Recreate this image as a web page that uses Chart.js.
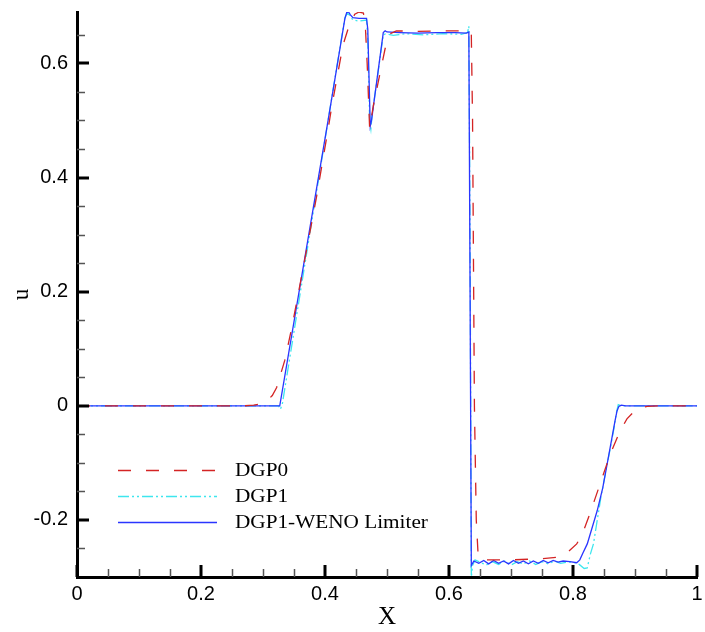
<!DOCTYPE html>
<html><head><meta charset="utf-8">
<script src="https://cdn.jsdelivr.net/npm/chart.js@4.4.1/dist/chart.umd.min.js"></script>
<style>html,body{margin:0;padding:0;background:#fff}canvas{display:block}</style>
</head><body>
<canvas id="c" width="705" height="632"></canvas>
<script>
// ---- data ----
const seriesNames = ['DGP0', 'DGP1', 'DGP1-WENO Limiter'];

const dgp0X = [0, 0.27, 0.285, 0.303, 0.315, 0.322, 0.335, 0.347, 0.368, 0.387, 0.405, 0.411, 0.429, 0.44, 0.448, 0.455, 0.462, 0.465, 0.468, 0.472, 0.478, 0.489, 0.497, 0.505, 0.515, 0.55, 0.6, 0.633, 0.636, 0.638, 0.641, 0.644, 0.647, 0.652, 0.7, 0.75, 0.779, 0.79, 0.806, 0.815, 0.827, 0.849, 0.86, 0.876, 0.887, 0.903, 0.92, 0.94, 1];
const dgp0Y = [0, 0, 0.001, 0.005, 0.018, 0.032, 0.079, 0.14, 0.26, 0.37, 0.485, 0.525, 0.632, 0.67, 0.686, 0.69, 0.688, 0.667, 0.6, 0.486, 0.526, 0.584, 0.626, 0.652, 0.657, 0.656, 0.657, 0.657, 0.65, 0.5, 0.0, -0.2, -0.262, -0.27, -0.27, -0.268, -0.265, -0.258, -0.242, -0.225, -0.19, -0.12, -0.085, -0.044, -0.023, -0.005, -0.001, 0, 0];

const dgp1X = [0, 0.325, 0.328, 0.331, 0.405, 0.432, 0.436, 0.44, 0.445, 0.455, 0.467, 0.469, 0.472, 0.474, 0.476, 0.494, 0.498, 0.51, 0.53, 0.56, 0.59, 0.62, 0.63, 0.632, 0.634, 0.636, 0.638, 0.642, 0.65, 0.66, 0.67, 0.68, 0.69, 0.70, 0.71, 0.72, 0.73, 0.74, 0.75, 0.76, 0.77, 0.78, 0.79, 0.80, 0.81, 0.818, 0.823, 0.828, 0.833, 0.845, 0.852, 0.86, 0.866, 0.87, 0.873, 0.878, 1];
const dgp1Y = [0, 0, -0.006, 0.002, 0.5, 0.68, 0.688, 0.684, 0.676, 0.674, 0.676, 0.64, 0.5, 0.485, 0.51, 0.65, 0.652, 0.649, 0.652, 0.650, 0.652, 0.651, 0.654, 0.665, 0.3, -0.3, -0.28, -0.27, -0.274, -0.279, -0.273, -0.278, -0.272, -0.279, -0.273, -0.277, -0.272, -0.278, -0.273, -0.277, -0.272, -0.276, -0.274, -0.274, -0.278, -0.285, -0.284, -0.26, -0.242, -0.16, -0.12, -0.075, -0.04, -0.012, 0.002, 0, 0];

const wenoX = [0, 0.327, 0.405, 0.432, 0.435, 0.438, 0.441, 0.445, 0.455, 0.467, 0.469, 0.473, 0.475, 0.494, 0.497, 0.50, 0.52, 0.55, 0.58, 0.61, 0.628, 0.632, 0.634, 0.636, 0.64, 0.648, 0.656, 0.664, 0.672, 0.68, 0.688, 0.696, 0.704, 0.712, 0.72, 0.728, 0.736, 0.744, 0.752, 0.76, 0.768, 0.776, 0.784, 0.795, 0.806, 0.811, 0.816, 0.823, 0.839, 0.848, 0.86, 0.868, 0.871, 0.874, 0.878, 0.885, 1];
const wenoY = [0, 0, 0.5, 0.678, 0.689, 0.690, 0.685, 0.680, 0.679, 0.679, 0.66, 0.49, 0.5, 0.654, 0.657, 0.655, 0.654, 0.653, 0.654, 0.654, 0.653, 0.655, 0.2, -0.28, -0.272, -0.276, -0.271, -0.277, -0.271, -0.276, -0.272, -0.277, -0.271, -0.276, -0.272, -0.277, -0.272, -0.276, -0.271, -0.275, -0.271, -0.274, -0.272, -0.273, -0.275, -0.27, -0.258, -0.242, -0.184, -0.144, -0.073, -0.025, -0.009, -0.001, 0.001, 0, 0];

const xTickValues = [0, 0.2, 0.4, 0.6, 0.8, 1];
const xTickLabels = ['0', '0.2', '0.4', '0.6', '0.8', '1'];
const yTickValues = [-0.2, 0, 0.2, 0.4, 0.6];
const yTickLabels = ['-0.2', '0', '0.2', '0.4', '0.6'];
const xMinorValues = [0.05, 0.1, 0.15, 0.25, 0.3, 0.35, 0.45, 0.5, 0.55, 0.65, 0.7, 0.75, 0.85, 0.9, 0.95];
const yMinorValues = [-0.25, -0.15, -0.1, -0.05, 0.05, 0.1, 0.15, 0.25, 0.3, 0.35, 0.45, 0.5, 0.55, 0.65];

const toPts = (xs, ys) => xs.map((x, i) => ({ x: x, y: ys[i] }));

const colors = ['#d42424', '#3ee6ee', '#2a35ff'];
const dashes = [[13, 15], [11, 3, 2, 3, 2, 3], []];

const inwardTicks = {
  id: 'inwardTicks',
  afterDraw(chart) {
    const { ctx, chartArea: a, scales: { x, y } } = chart;
    ctx.save();
    ctx.lineCap = 'butt';
    ctx.strokeStyle = '#555';
    ctx.lineWidth = 1.5;
    ctx.beginPath();
    xMinorValues.forEach(v => { const p = Math.round(x.getPixelForValue(v)) + 0.5; ctx.moveTo(p, a.bottom); ctx.lineTo(p, a.bottom - 8); });
    yMinorValues.forEach(v => { const p = Math.round(y.getPixelForValue(v)) + 0.5; ctx.moveTo(a.left, p); ctx.lineTo(a.left + 8, p); });
    ctx.stroke();
    ctx.strokeStyle = '#000';
    ctx.lineWidth = 3;
    ctx.beginPath();
    xTickValues.forEach(v => { const p = Math.round(x.getPixelForValue(v)); ctx.moveTo(p, a.bottom); ctx.lineTo(p, a.bottom - 12); });
    yTickValues.forEach(v => { const p = Math.round(y.getPixelForValue(v)); ctx.moveTo(a.left, p); ctx.lineTo(a.left + 12, p); });
    ctx.stroke();
    ctx.restore();
  }
};

const lineLegend = {
  id: 'lineLegend',
  afterDraw(chart) {
    const { ctx, chartArea: a } = chart;
    ctx.save();
    const x0 = a.left + 41, x1 = a.left + 140, tx = a.left + 158;
    const rows = [a.bottom - 107, a.bottom - 81, a.bottom - 55];
    chart.data.datasets.forEach((ds, i) => {
      const yy = rows[i] + 0.5;
      ctx.strokeStyle = ds.borderColor;
      ctx.lineWidth = 1.3;
      ctx.setLineDash(ds.borderDash || []);
      ctx.beginPath(); ctx.moveTo(x0, yy); ctx.lineTo(x1, yy); ctx.stroke();
      ctx.setLineDash([]);
      ctx.save();
      ctx.translate(tx, rows[i]);
      ctx.scale(1.18, 1);
      ctx.fillStyle = '#000';
      ctx.font = '18px "Liberation Serif", "Times New Roman", serif';
      ctx.textBaseline = 'middle';
      ctx.textAlign = 'left';
      ctx.fillText(ds.label, 0, 1);
      ctx.restore();
    });
    ctx.restore();
  }
};

const mkDs = (i, xs, ys, order) => ({
  label: seriesNames[i],
  data: toPts(xs, ys),
  borderColor: colors[i],
  borderDash: dashes[i],
  borderWidth: 1.3,
  pointRadius: 0,
  fill: false,
  tension: 0,
  order: order
});

new Chart(document.getElementById('c'), {
  type: 'line',
  data: {
    datasets: [
      mkDs(0, dgp0X, dgp0Y, 0),
      mkDs(1, dgp1X, dgp1Y, 2),
      mkDs(2, wenoX, wenoY, 1)
    ]
  },
  options: {
    responsive: false,
    animation: false,
    events: [],
    layout: { padding: { top: 12, right: 8, left: 0, bottom: 0 } },
    plugins: { legend: { display: false }, tooltip: { enabled: false } },
    scales: {
      x: {
        type: 'linear', min: 0, max: 1,
        afterBuildTicks: s => { s.ticks = xTickValues.map(v => ({ value: v })); },
        afterFit: s => { s.height = 55; s.paddingLeft = 0; s.paddingRight = 0; },
        ticks: {
          color: '#000', padding: 5, maxRotation: 0,
          font: { family: '"Liberation Sans", Arial, sans-serif', size: 20 },
          callback: (v) => { const k = xTickValues.indexOf(v); return k >= 0 ? xTickLabels[k] : ''; }
        },
        grid: { display: false, drawTicks: false },
        border: { display: true, color: '#000', width: 3 },
        title: { display: true, text: 'X', color: '#000', padding: { top: 0, bottom: 0 },
          font: { family: '"Liberation Serif", "Times New Roman", serif', size: 25 } }
      },
      y: {
        type: 'linear', min: -0.3, max: 0.69,
        afterBuildTicks: s => { s.ticks = yTickValues.map(v => ({ value: v })); },
        afterFit: s => { s.width = 77; s.paddingTop = 0; s.paddingBottom = 0; },
        ticks: {
          color: '#000', padding: 9,
          font: { family: '"Liberation Sans", Arial, sans-serif', size: 20 },
          callback: (v) => { const k = yTickValues.findIndex(t => Math.abs(t - v) < 1e-9); return k >= 0 ? yTickLabels[k] : ''; }
        },
        grid: { display: false, drawTicks: false },
        border: { display: true, color: '#000', width: 3 },
        title: { display: true, text: 'u', color: '#000', padding: { top: 8, bottom: 0 },
          font: { family: '"Liberation Serif", "Times New Roman", serif', size: 23 } }
      }
    }
  },
  plugins: [inwardTicks, lineLegend]
});
</script>
</body></html>
